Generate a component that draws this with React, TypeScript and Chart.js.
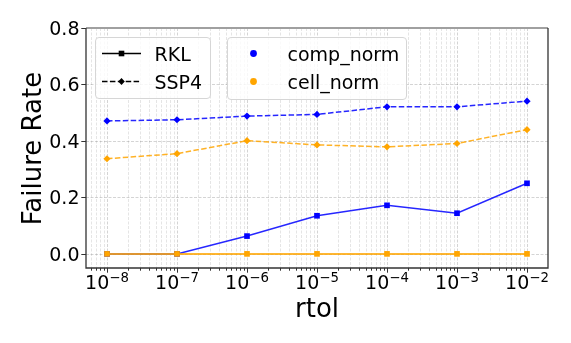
import React, { useEffect, useRef } from "react";
import { Chart, registerables } from "chart.js";

Chart.register(...registerables);

const rtolValues = [1e-8, 1e-7, 1e-6, 1e-5, 1e-4, 1e-3, 1e-2];
const rklComp = [0, 0, 0.063, 0.135, 0.172, 0.144, 0.25];
const rklCell = [0, 0, 0, 0, 0, 0, 0];
const ssp4Comp = [0.471, 0.475, 0.488, 0.494, 0.521, 0.521, 0.541];
const ssp4Cell = [0.337, 0.355, 0.401, 0.386, 0.379, 0.391, 0.44];

const xTickExponents = [-8, -7, -6, -5, -4, -3, -2];
const yTickValues = [0, 0.2, 0.4, 0.6, 0.8];
const yTickLabels = ["0.0", "0.2", "0.4", "0.6", "0.8"];

const methodLegend = ["RKL", "SSP4"];
const normLegend = ["comp_norm", "cell_norm"];

const BLUE = "#0000ff";
const ORANGE = "#ffa500";
const FONT = "'DejaVu Sans', sans-serif";

const toPts = (ys: number[]) => rtolValues.map((x, i) => ({ x, y: ys[i] }));

function roundRect(ctx: CanvasRenderingContext2D, x: number, y: number, w: number, h: number, r: number) {
  ctx.beginPath();
  ctx.moveTo(x + r, y);
  ctx.lineTo(x + w - r, y);
  ctx.quadraticCurveTo(x + w, y, x + w, y + r);
  ctx.lineTo(x + w, y + h - r);
  ctx.quadraticCurveTo(x + w, y + h, x + w - r, y + h);
  ctx.lineTo(x + r, y + h);
  ctx.quadraticCurveTo(x, y + h, x, y + h - r);
  ctx.lineTo(x, y + r);
  ctx.quadraticCurveTo(x, y, x + r, y);
  ctx.closePath();
}

const decorPlugin = {
  id: "decor",
  beforeDatasetsDraw(chart: any) {
    const ctx = chart.ctx as CanvasRenderingContext2D;
    const { left, right, top, bottom } = chart.chartArea;
    const xs = chart.scales.x;
    const ys = chart.scales.y;
    ctx.save();
    ctx.lineWidth = 1;
    ctx.setLineDash([3, 1.5]);
    // minor x grid
    for (let k = -9; k <= -2; k++) {
      for (let m = 2; m <= 9; m++) {
        const v = m * Math.pow(10, k);
        if (v < xs.min || v > xs.max) continue;
        const px = Math.round(xs.getPixelForValue(v)) + 0.5;
        ctx.strokeStyle = "rgba(0,0,0,0.10)";
        ctx.beginPath();
        ctx.moveTo(px, top);
        ctx.lineTo(px, bottom);
        ctx.stroke();
      }
    }
    // major x grid
    for (const e of xTickExponents) {
      const px = Math.round(xs.getPixelForValue(Math.pow(10, e))) + 0.5;
      ctx.strokeStyle = "rgba(0,0,0,0.17)";
      ctx.beginPath();
      ctx.moveTo(px, top);
      ctx.lineTo(px, bottom);
      ctx.stroke();
    }
    // major y grid
    for (const v of yTickValues) {
      const py = Math.round(ys.getPixelForValue(v)) + 0.5;
      ctx.strokeStyle = "rgba(0,0,0,0.17)";
      ctx.beginPath();
      ctx.moveTo(left, py);
      ctx.lineTo(right, py);
      ctx.stroke();
    }
    ctx.restore();
  },
  afterDraw(chart: any) {
    const ctx = chart.ctx as CanvasRenderingContext2D;
    const { left, right, top, bottom } = chart.chartArea;
    const xs = chart.scales.x;
    const ys = chart.scales.y;
    ctx.save();
    ctx.setLineDash([]);
    // frame
    ctx.strokeStyle = "#a0a0a0";
    ctx.lineWidth = 2;
    ctx.beginPath();
    ctx.moveTo(left, top);
    ctx.lineTo(right, top);
    ctx.stroke();
    ctx.strokeStyle = "#333333";
    ctx.lineWidth = 1.3;
    ctx.beginPath();
    ctx.moveTo(left, top);
    ctx.lineTo(left, bottom);
    ctx.lineTo(right, bottom);
    ctx.lineTo(right, top);
    ctx.stroke();

    // tick marks
    ctx.lineWidth = 1;
    ctx.strokeStyle = "#333333";
    for (const v of yTickValues) {
      const py = Math.round(ys.getPixelForValue(v)) + 0.5;
      ctx.beginPath();
      ctx.moveTo(left, py);
      ctx.lineTo(left - 4.7, py);
      ctx.stroke();
    }
    for (let k = -9; k <= -2; k++) {
      for (let m = 2; m <= 9; m++) {
        const v = m * Math.pow(10, k);
        if (v < xs.min || v > xs.max) continue;
        const px = Math.round(xs.getPixelForValue(v)) + 0.5;
        ctx.beginPath();
        ctx.moveTo(px, bottom);
        ctx.lineTo(px, bottom + 2.7);
        ctx.stroke();
      }
    }
    for (const e of xTickExponents) {
      const px = Math.round(xs.getPixelForValue(Math.pow(10, e))) + 0.5;
      ctx.beginPath();
      ctx.moveTo(px, bottom);
      ctx.lineTo(px, bottom + 4.7);
      ctx.stroke();
    }

    // y tick labels
    ctx.fillStyle = "#000";
    ctx.font = `19px ${FONT}`;
    ctx.textAlign = "right";
    ctx.textBaseline = "alphabetic";
    yTickValues.forEach((v, i) => {
      const py = ys.getPixelForValue(v);
      ctx.fillText(yTickLabels[i], 79.5, py + 7);
    });

    // x tick labels 10^k
    for (const e of xTickExponents) {
      const px = xs.getPixelForValue(Math.pow(10, e));
      const base = "10";
      const sup = "\u2212" + String(Math.abs(e));
      ctx.font = `19px ${FONT}`;
      const wb = ctx.measureText(base).width;
      ctx.font = `13.3px ${FONT}`;
      const ws = ctx.measureText(sup).width;
      const x0 = px - (wb + ws) / 2;
      ctx.textAlign = "left";
      ctx.font = `19px ${FONT}`;
      ctx.fillText(base, x0, 288.5);
      ctx.font = `13.3px ${FONT}`;
      ctx.fillText(sup, x0 + wb, 281.5);
    }

    // axis titles
    ctx.font = `26px ${FONT}`;
    ctx.textAlign = "center";
    ctx.fillText("rtol", (left + right) / 2, 316.5);
    ctx.save();
    ctx.translate(41, 148.5);
    ctx.rotate(-Math.PI / 2);
    ctx.fillText("Failure Rate", 0, 0);
    ctx.restore();

    // legends
    const rowY = [53.5, 81.5];
    const drawBox = (x: number, y: number, w: number, h: number) => {
      roundRect(ctx, x, y, w, h, 3.5);
      ctx.fillStyle = "rgba(255,255,255,0.8)";
      ctx.fill();
      ctx.strokeStyle = "#d6d6d6";
      ctx.lineWidth = 1;
      ctx.stroke();
    };
    drawBox(95.5, 37.5, 115, 61);
    drawBox(227.5, 37.5, 179, 62);

    // method legend
    methodLegend.forEach((label, i) => {
      const y = rowY[i];
      ctx.strokeStyle = "#000";
      ctx.lineWidth = 1.5;
      ctx.setLineDash(i === 0 ? [] : [5.5, 2.4]);
      ctx.beginPath();
      ctx.moveTo(102, y);
      ctx.lineTo(141, y);
      ctx.stroke();
      ctx.setLineDash([]);
      ctx.fillStyle = "#000";
      const cx = 121.5;
      if (i === 0) {
        ctx.fillRect(cx - 2.8, y - 2.8, 5.6, 5.6);
      } else {
        ctx.beginPath();
        ctx.moveTo(cx, y - 3.6);
        ctx.lineTo(cx + 3.3, y);
        ctx.lineTo(cx, y + 3.6);
        ctx.lineTo(cx - 3.3, y);
        ctx.closePath();
        ctx.fill();
      }
      ctx.font = `19px ${FONT}`;
      ctx.textAlign = "left";
      ctx.fillText(label, 154.5, y + 7);
    });

    // norm legend
    normLegend.forEach((label, i) => {
      const y = rowY[i];
      ctx.fillStyle = i === 0 ? BLUE : ORANGE;
      ctx.beginPath();
      ctx.arc(253.5, y, 3.4, 0, Math.PI * 2);
      ctx.fill();
      ctx.fillStyle = "#000";
      ctx.font = `19px ${FONT}`;
      ctx.textAlign = "left";
      ctx.fillText(label, 287.5, y + 7);
    });
    ctx.restore();
  },
};

export default function App() {
  const ref = useRef<HTMLCanvasElement | null>(null);
  useEffect(() => {
    if (!ref.current) return;
    const chart = new Chart(ref.current, {
      type: "line",
      data: {
        datasets: [
          {
            label: "RKL cell_norm",
            data: toPts(rklCell),
            borderColor: "rgba(255,165,0,0.8)",
            backgroundColor: ORANGE,
            pointBorderColor: ORANGE,
            borderWidth: 2,
            pointStyle: "rect",
            pointRadius: 4,
            pointBorderWidth: 0,
            order: 0,
          },
          {
            label: "RKL comp_norm",
            data: toPts(rklComp),
            borderColor: "rgba(0,0,255,0.85)",
            backgroundColor: BLUE,
            pointBorderColor: BLUE,
            borderWidth: 1.5,
            pointStyle: "rect",
            pointRadius: 4,
            pointBorderWidth: 0,
            order: 1,
          },
          {
            label: "SSP4 cell_norm",
            data: toPts(ssp4Cell),
            borderColor: "rgba(255,165,0,0.85)",
            backgroundColor: ORANGE,
            pointBorderColor: ORANGE,
            borderWidth: 1.5,
            borderDash: [5.5, 2.4],
            pointStyle: "rectRot",
            pointRadius: 3.6,
            pointBorderWidth: 0,
            order: 2,
          },
          {
            label: "SSP4 comp_norm",
            data: toPts(ssp4Comp),
            borderColor: "rgba(0,0,255,0.85)",
            backgroundColor: BLUE,
            pointBorderColor: BLUE,
            borderWidth: 1.5,
            borderDash: [5.5, 2.4],
            pointStyle: "rectRot",
            pointRadius: 3.6,
            pointBorderWidth: 0,
            order: 3,
          },
        ],
      },
      options: {
        responsive: false,
        animation: false,
        devicePixelRatio: 1,
        layout: { padding: { left: 86, right: 23, top: 28, bottom: 75 } },
        plugins: { legend: { display: false }, tooltip: { enabled: false } },
        elements: { line: { tension: 0, fill: false } },
        scales: {
          x: {
            type: "logarithmic",
            min: Math.pow(10, -8.3),
            max: Math.pow(10, -1.7),
            grid: { display: false },
            border: { display: false },
            ticks: { display: false },
            afterFit: (s: any) => {
              s.height = 0;
            },
          },
          y: {
            type: "linear",
            min: -0.05,
            max: 0.8,
            grid: { display: false },
            border: { display: false },
            ticks: { display: false },
            afterFit: (s: any) => {
              s.width = 0;
            },
          },
        },
      },
      plugins: [decorPlugin],
    } as any);
    return () => chart.destroy();
  }, []);
  return (
    <div style={{ position: "absolute", left: 0, top: 0, width: 571, height: 343, background: "#fff" }}>
      <canvas ref={ref} width={571} height={343} style={{ display: "block" }} />
    </div>
  );
}
